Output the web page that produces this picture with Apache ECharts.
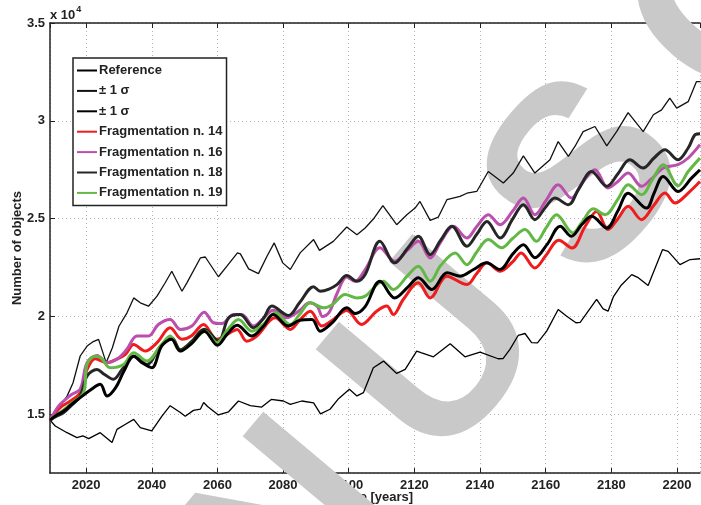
<!DOCTYPE html>
<html><head><meta charset="utf-8">
<script src="https://cdn.jsdelivr.net/npm/echarts@6/dist/echarts.min.js"></script>
<style>html,body{margin:0;padding:0;background:#fff}#c{width:701px;height:505px}</style>
</head><body><div id="c"></div>
<script>
// [year, number of objects]
const reference = [[2009,14700],[2011,14950],[2013.2,15170],[2015.5,15500],[2018.2,15850],[2021.3,16240],[2024.3,16530],[2026.4,15930],[2029,16360],[2031.5,17200],[2034.5,17970],[2037,17640],[2040,17380],[2043,18480],[2046,18830],[2048.7,18230],[2052,18600],[2056,19250],[2060,18530],[2063,19100],[2066,19550],[2070.5,19000],[2074,19500],[2077,20100],[2081.6,19510],[2085,19800],[2088.8,19850],[2091.3,19250],[2095,19680],[2099.4,20440],[2102,20150],[2105,20500],[2109.5,21800],[2114,20950],[2118,21500],[2121.2,21980],[2125.3,21380],[2130,22230],[2134,22060],[2138,22400],[2142,22740],[2146,22400],[2150,23200],[2153.2,23670],[2156.7,23000],[2160.5,23700],[2164.4,24610],[2167.8,24100],[2171,24700],[2174,25120],[2178.6,24520],[2182,25400],[2185.1,26300],[2190.7,25540],[2193,26300],[2195.8,27160],[2200.3,26390],[2204.4,27070],[2207,27500]];
const sigmaUpper = [[2009,14700],[2011,15100],[2014.2,15930],[2016,16600],[2018.2,17980],[2020.3,18490],[2022,18700],[2023.8,18830],[2026.1,17640],[2028,18400],[2030,19500],[2032.5,20200],[2034.5,20950],[2036.5,20700],[2039,20525],[2041.6,21040],[2044,21700],[2046.1,22310],[2049.2,21290],[2050.7,21720],[2054.8,22990],[2056.3,23040],[2060.3,22030],[2062.9,22570],[2066.1,23250],[2067,23200],[2069.5,22430],[2072.5,22190],[2075.1,23080],[2077.3,23760],[2079.9,22740],[2082.2,22400],[2085.2,23250],[2089.3,23930],[2091.1,23380],[2095.3,23840],[2099.4,24570],[2102.5,24180],[2105,24520],[2107.5,24980],[2110.4,25660],[2114.6,24690],[2117.7,25200],[2120.2,25540],[2121.7,25880],[2124.8,24910],[2127.3,25080],[2129.9,25970],[2133.9,26140],[2136,26300],[2139,26390],[2142.5,27410],[2147.1,26820],[2150.1,27330],[2153.2,28210],[2156.7,27330],[2161.3,28010],[2163.8,28940],[2166.9,28180],[2168.9,28690],[2171.4,29450],[2175,29710],[2178.6,28720],[2181.6,29450],[2185.1,30420],[2189.7,29450],[2192.8,30310],[2195.3,30560],[2197.8,31160],[2199.9,30650],[2203.4,30980],[2205.9,32000],[2207.2,32000]];
const sigmaLower = [[2009,14700],[2010.6,14400],[2014.2,14060],[2017.2,13810],[2019,13900],[2020.8,13760],[2024.3,14060],[2027.9,13560],[2029.4,14230],[2032,14490],[2034.5,14740],[2036.5,14320],[2040,14150],[2043.1,14910],[2045.6,15440],[2048.7,15090],[2050.2,14900],[2052.7,15200],[2054.8,15260],[2055.8,15600],[2057,15400],[2060.3,14970],[2063.4,15130],[2066.4,15680],[2070,15440],[2073.5,15370],[2076.4,15760],[2080.1,15680],[2082.2,15510],[2085.7,15680],[2089.3,15580],[2091.4,15020],[2094.3,15260],[2096.9,15800],[2100.2,16280],[2102.5,15940],[2104.5,16110],[2107.5,17380],[2110.6,17720],[2114.6,17090],[2117.2,17300],[2120.7,18230],[2122,18150],[2125.8,17940],[2130.9,18610],[2135.4,17940],[2140,18180],[2145.5,17840],[2147,17850],[2149.1,18320],[2151.6,19030],[2153.7,19130],[2155.7,18660],[2157.5,18650],[2160.3,19250],[2163.8,20360],[2166.3,20020],[2169.2,19680],[2170.5,19700],[2175.5,20870],[2177.5,20390],[2179,20270],[2180.6,21000],[2183,21600],[2186.2,22140],[2188,22000],[2191.2,21580],[2195.6,23420],[2197.3,23330],[2200.9,22650],[2204,22910],[2207,22950]];
const frag14 = [[2009,14700],[2012.1,15340],[2015.2,15680],[2018.2,16110],[2020.3,17290],[2022.8,17840],[2026.4,17640],[2029,17800],[2032,18060],[2034.5,18570],[2038,18230],[2041.6,18660],[2045.6,19420],[2049.2,18830],[2052,19000],[2055.8,19590],[2059.8,18830],[2063.9,19170],[2066,19340],[2068.9,18740],[2072,19000],[2077.6,19930],[2082.2,19340],[2085,19800],[2088.3,20270],[2091.8,19510],[2095,19800],[2099.4,20300],[2103.9,19590],[2108.5,20270],[2111.6,20530],[2113.6,20100],[2116.6,20870],[2121.2,21720],[2124.8,20950],[2129.9,22060],[2136,21630],[2139,22200],[2142.1,22740],[2146.1,22310],[2150,22800],[2152.5,23250],[2156.7,22480],[2160,23100],[2164,23900],[2168,23500],[2172,24600],[2175.5,25370],[2179,24440],[2182,25000],[2185.1,25630],[2189.2,24950],[2193,25700],[2196.3,26310],[2199.4,25800],[2203.4,26310],[2207,26900]];
const frag16 = [[2009,14700],[2011.6,15420],[2014,15800],[2015.7,16020],[2018.2,16280],[2020.3,17640],[2023.3,18010],[2026.4,17640],[2029.4,17810],[2032.4,18320],[2035.5,19000],[2039,19000],[2042,19590],[2045.6,19850],[2048.7,19340],[2052.2,19510],[2056,20220],[2058.8,19680],[2061.4,19640],[2064.9,20100],[2067.4,20100],[2071,19510],[2074,19900],[2077,20320],[2081,19930],[2085,20300],[2088,20700],[2090.5,20500],[2092,20000],[2094,20200],[2096.5,21200],[2099.4,22020],[2101.9,21800],[2105,22400],[2109.5,23510],[2114,22820],[2118,23400],[2121.2,23840],[2124.8,22990],[2128,23800],[2131.9,24610],[2136,24010],[2139,24600],[2142.5,25200],[2146.1,24690],[2150,25400],[2153.2,26050],[2156.7,25200],[2160,25900],[2163.8,26730],[2167.8,26050],[2171,26800],[2175,27500],[2179,26570],[2182,26900],[2185.1,27330],[2189.2,26650],[2192,27000],[2196,27600],[2200.3,27760],[2203.4,28100],[2207,28780]];
const frag18 = [[2009,14700],[2011,14900],[2013.2,15090],[2015.5,15450],[2018.2,15930],[2020.3,16960],[2023.3,17290],[2025.5,17050],[2028.3,16790],[2031,17300],[2034.5,17970],[2038.5,17550],[2042.6,18480],[2046.1,18910],[2048.7,18300],[2052,18700],[2056,19350],[2060.3,18740],[2063.4,19930],[2066.9,20100],[2071,19420],[2074,19900],[2076.6,20530],[2081.6,20050],[2085,20700],[2089.3,21520],[2091.3,21290],[2094,21400],[2096.4,21630],[2099.4,22090],[2102.5,21800],[2105,22140],[2109.5,23840],[2114,22740],[2118,23500],[2121.2,24100],[2124.8,23160],[2128,23900],[2131.4,24610],[2136,23590],[2139,24200],[2142.1,24860],[2146.1,24010],[2150,25000],[2153.2,25710],[2156.7,24950],[2160,25600],[2162.8,26050],[2166.9,25710],[2170,26500],[2174,27410],[2178.6,26650],[2182,27300],[2185.6,28010],[2189.7,27590],[2193,28100],[2196.3,28520],[2200.3,28010],[2203.4,28610],[2205.6,29300],[2207,29340]];
const frag19 = [[2009,14700],[2012.1,15090],[2015.2,15510],[2019.2,16110],[2020.3,17570],[2022.8,17970],[2024.5,17900],[2027.3,17380],[2031.4,17550],[2034.5,18150],[2038.5,17720],[2042.6,18480],[2045.6,19000],[2048.7,18230],[2052,18600],[2056.3,19250],[2059.8,18660],[2063,19300],[2066.4,19850],[2070.5,19250],[2074,19600],[2077.6,20190],[2082.2,19590],[2085,20100],[2088.3,20700],[2092.3,20440],[2095,20600],[2098.9,21120],[2102.5,20950],[2105,21040],[2110.5,21800],[2113.6,21380],[2118,22100],[2121.2,22570],[2124.8,21800],[2128,22600],[2132.4,23250],[2136,22650],[2139,23300],[2142.5,23930],[2146.6,23510],[2150,24000],[2153.7,24440],[2157.2,23840],[2160,24500],[2163.3,25200],[2168.3,24270],[2171,24800],[2174.5,25500],[2178.1,25200],[2182,26000],[2185.1,26730],[2189.2,26220],[2192.5,27000],[2195.8,27760],[2200.3,26680],[2203.4,27410],[2207,28100]];

const seriesNames = ['Reference','sigmaUpper','sigmaLower','Fragmentation n. 14','Fragmentation n. 16','Fragmentation n. 18','Fragmentation n. 19'];
const legendLabels = {'sigmaUpper':'± 1 σ','sigmaLower':'± 1 σ'};
const xTickStep = 20;
const yTickStep = 5000;
const watermarkLetters = ['N','U','S','C'];

const FONT = '"Liberation Sans", Arial, sans-serif';
const chart = echarts.init(document.getElementById('c'), null, {renderer:'canvas'});

function lineSeries(name, data, color, width, smooth, z) {
  return {name, type:'line', data, symbol:'none', smooth: smooth, z: z,
    lineStyle:{color, width}, itemStyle:{color}, animation:false};
}

// decorative watermark (letters along a rotated baseline)
const wmAngle = 50 * Math.PI / 180;
const wmSize = 250;
const wmStep = 230;
const wmAnchor = [295, 534];
const wmGraphics = watermarkLetters.map((ch, i) => ({
  type:'text', silent:true, z:1, zlevel:0,
  x: wmAnchor[0] + i * wmStep * Math.cos(wmAngle),
  y: wmAnchor[1] - i * wmStep * Math.sin(wmAngle),
  rotation: wmAngle,
  style:{text:ch, fill:'#c9c9c9', font:'bold ' + wmSize + 'px ' + FONT, align:'center', verticalAlign:'middle'}
}));

chart.setOption({
  animation:false,
  backgroundColor:'#fff',
  grid:{left:50, right:1, top:23, bottom:32, containLabel:false, outerBoundsMode:'none'},
  xAxis:[{
    type:'value', min:2009, max:2207, minInterval:xTickStep, maxInterval:xTickStep,
    axisLine:{show:true, onZero:false, lineStyle:{color:'#222', width:1.5}},
    axisTick:{show:true, inside:true, length:5, lineStyle:{color:'#222'}},
    axisLabel:{showMinLabel:false, showMaxLabel:false, color:'#222', fontWeight:'bold', fontSize:13, fontFamily:FONT, margin:6,
      formatter: v => String(v)},
    splitLine:{show:true, lineStyle:{color:'#b4b4b4', type:[1,3], width:1}},
    name:'Time [years]', nameLocation:'middle', nameGap:18, nameMoveOverlap:false,
    nameTextStyle:{color:'#222', fontWeight:'bold', fontSize:13, fontFamily:FONT}
  },{
    type:'value', position:'top', min:2009, max:2207, minInterval:xTickStep, maxInterval:xTickStep,
    axisLine:{show:true, onZero:false, lineStyle:{color:'#222', width:1.5}},
    axisTick:{show:true, inside:true, length:5, lineStyle:{color:'#222'}},
    axisLabel:{show:false}, splitLine:{show:false}
  }],
  yAxis:{
    type:'value', min:12000, max:35000, minInterval:yTickStep, maxInterval:yTickStep,
    axisLine:{show:true, onZero:false, lineStyle:{color:'#222', width:1.5}},
    axisTick:{show:true, inside:true, length:5, lineStyle:{color:'#222'}},
    axisLabel:{showMinLabel:false, color:'#222', fontWeight:'bold', fontSize:13, fontFamily:FONT, margin:5,
      formatter: v => String(v/10000)},
    splitLine:{show:true, lineStyle:{color:'#b4b4b4', type:[1,3], width:1}},
    name:'Number of objects', nameLocation:'middle', nameGap:26, nameRotate:90, nameMoveOverlap:false,
    nameTextStyle:{color:'#222', fontWeight:'bold', fontSize:13, fontFamily:FONT}
  },
  legend:{
    data:seriesNames, orient:'vertical', left:73, top:58, selectedMode:false,
    itemWidth:20, itemHeight:14, itemGap:7.4, padding:[6,4,6,3],
    backgroundColor:'#fff', borderColor:'#222', borderWidth:1.5, borderRadius:0,
    itemStyle:{opacity:0},
    formatter: n => legendLabels[n] || n,
    textStyle:{color:'#222', fontWeight:'bold', fontSize:13, fontFamily:FONT, padding:[0,0,0,-3]}
  },
  graphic:[{
    type:'text', left:50, top:5, z:10,
    style:{text:'{a|x 10}{b|4}', fill:'#222',
      rich:{a:{fontWeight:'bold', fontSize:13, fontFamily:FONT, padding:[6,0,0,0]},
            b:{fontWeight:'bold', fontSize:9, fontFamily:FONT, padding:[0,0,6,1]}}}
  }].concat(wmGraphics),
  series:[
    lineSeries('Reference', reference, '#000000', 3, 0.35, 5),
    lineSeries('sigmaUpper', sigmaUpper, '#111111', 1.3, false, 3),
    lineSeries('sigmaLower', sigmaLower, '#000000', 1.3, false, 3),
    lineSeries('Fragmentation n. 14', frag14, '#ee1c1c', 3, 0.35, 4),
    lineSeries('Fragmentation n. 16', frag16, '#bb4fae', 3, 0.35, 4),
    lineSeries('Fragmentation n. 18', frag18, '#262626', 3, 0.35, 4),
    lineSeries('Fragmentation n. 19', frag19, '#62b844', 3, 0.35, 4)
  ]
});
</script></body></html>
